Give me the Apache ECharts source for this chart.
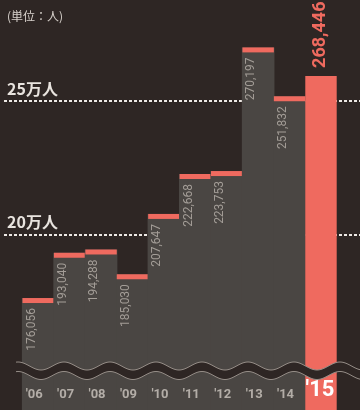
<!DOCTYPE html>
<html>
<head>
<meta charset="utf-8">
<script src="https://cdn.jsdelivr.net/npm/echarts@6/dist/echarts.min.js"></script>
<style>
html,body{margin:0;padding:0;background:#2e2624;}
#chart{width:360px;height:410px;}
</style>
</head>
<body>
<div id="chart"></div>
<script>
// ---- data ----
const years = ["'06", "'07", "'08", "'09", "'10", "'11", "'12", "'13", "'14", "'15"];
const visitors = [176056, 193040, 194288, 185030, 207647, 222668, 223753, 270197, 251832, 268446];
const refLines = [200000, 250000];
const refLabels = ['20万人', '25万人'];
const unitLabel = '(単位：人)';

// ---- styles ----
const BG = '#2e2624';
const GRAY = '#4a4643';
const RED = '#ef6a5f';
const last = visitors.length - 1;

const baseData = visitors.map((v, i) => (i === last ? null : v));
const highlightData = visitors.map((v, i) => (i === last ? v : null));
const bodyData = visitors.map((v, i) => (i === last ? null : [i, v]));

const fmt = v => v.toLocaleString('en-US');
const NUM_FONT = "'Liberation Sans Narrow', Roboto, 'Noto Sans', sans-serif";
const JP_FONT = "'Noto Sans CJK JP', 'Noto Sans', sans-serif";

// decorative wavy axis break
function wave(offset) {
  const pts = [];
  for (let x = 16; x <= 362; x += 1) {
    pts.push([x, 366 + offset - 4 * Math.cos(2 * Math.PI * (x - 18) / 46)]);
  }
  return pts;
}
const topW = wave(0), botW = wave(9.5);
const bandPts = topW.concat(botW.slice().reverse());

const chart = echarts.init(document.getElementById('chart'), null, {renderer: 'canvas'});
chart.setOption({
  backgroundColor: BG,
  animation: false,
  title: {
    text: unitLabel, left: 2, top: 5,
    textStyle: {color: '#d9d3cd', fontSize: 12, fontWeight: 'normal', fontFamily: JP_FONT}
  },
  grid: [
    {left: 4, right: 0, top: 0, height: 410},
    {left: 22.5, right: 23.3, top: 0, height: 410}
  ],
  xAxis: [
    {gridIndex: 0, type: 'value', min: 0, max: 1, show: false},
    {
      gridIndex: 1, type: 'category', data: years,
      axisLine: {show: false}, axisTick: {show: false}, splitLine: {show: false},
      axisLabel: {
        inside: true, margin: 9, interval: 0,
        formatter: (v, i) => (i === last ? '{hl|' + v + '}' : '{n|' + v + '}'),
        rich: {
          n: {color: '#b3ada7', fontSize: 13, fontWeight: 'bold', fontFamily: NUM_FONT, padding: [0, 8, 0, 0]},
          hl: {color: '#ffffff', fontSize: 22, fontWeight: 'bold', fontFamily: NUM_FONT, padding: [0, 2, 0, 0]}
        }
      },
      z: 10
    }
  ],
  yAxis: [
    {gridIndex: 0, type: 'value', min: 134000, max: 288000, show: false},
    {gridIndex: 1, type: 'value', min: 134000, max: 288000, show: false},
    {gridIndex: 1, type: 'value', min: 134000, max: 299000, show: false}
  ],
  series: [
    {
      type: 'line', xAxisIndex: 0, yAxisIndex: 0, data: [[0, refLines[0]]],
      symbol: 'none', lineStyle: {opacity: 0}, z: 1, silent: true,
      markLine: {
        silent: true, symbol: 'none', z: 1,
        lineStyle: {color: '#ece8e4', type: [3, 2], width: 2},
        label: {
          position: 'insideStartTop', distance: [3, 4],
          color: '#e9e4df', fontSize: 16, fontWeight: 'bold', fontFamily: JP_FONT,
          formatter: p => refLabels[refLines.indexOf(p.value)]
        },
        data: refLines.map(v => ({yAxis: v}))
      }
    },
    {
      // gray bodies + red caps, slightly overlapped so no seams between adjacent bars
      type: 'custom', xAxisIndex: 1, yAxisIndex: 1, data: bodyData, z: 3,
      renderItem: (params, api) => {
        const p = api.coord([api.value(0), api.value(1)]);
        const w = api.size([1, 0])[0];
        const cs = params.coordSys;
        const bottom = cs.y + cs.height;
        return {
          type: 'group',
          children: [
            {type: 'rect', shape: {x: p[0] - w / 2 - 0.6, y: p[1], width: w + 1.2, height: bottom - p[1]}, style: {fill: GRAY}},
            {type: 'rect', shape: {x: p[0] - w / 2, y: p[1], width: w, height: 5}, style: {fill: RED}}
          ]
        };
      }
    },
    {
      // transparent bars carrying the value labels
      type: 'bar', xAxisIndex: 1, yAxisIndex: 1, data: baseData,
      barCategoryGap: '0%', barGap: '-100%', z: 5,
      itemStyle: {color: 'rgba(0,0,0,0)'},
      label: {
        show: true, position: [3, 10], rotate: 90, align: 'right', verticalAlign: 'top',
        color: '#a39d97', fontSize: 12, fontFamily: NUM_FONT,
        formatter: p => fmt(p.value)
      }
    },
    {
      type: 'bar', xAxisIndex: 1, yAxisIndex: 2, data: highlightData,
      barCategoryGap: '0%', barGap: '-100%', z: 4,
      itemStyle: {color: RED},
      label: {
        show: true, position: 'top', distance: 8, rotate: 90, align: 'left', verticalAlign: 'middle',
        color: RED, fontSize: 18, fontWeight: 'bold', fontFamily: NUM_FONT,
        formatter: p => fmt(p.value)
      }
    }
  ],
  graphic: [
    {type: 'polygon', shape: {points: bandPts}, style: {fill: BG}, z: 20, silent: true},
    {type: 'polyline', shape: {points: topW}, style: {stroke: '#958d87', lineWidth: 1, fill: null}, z: 21, silent: true},
    {type: 'polyline', shape: {points: botW}, style: {stroke: '#958d87', lineWidth: 1, fill: null}, z: 21, silent: true}
  ]
});
</script>
</body>
</html>
